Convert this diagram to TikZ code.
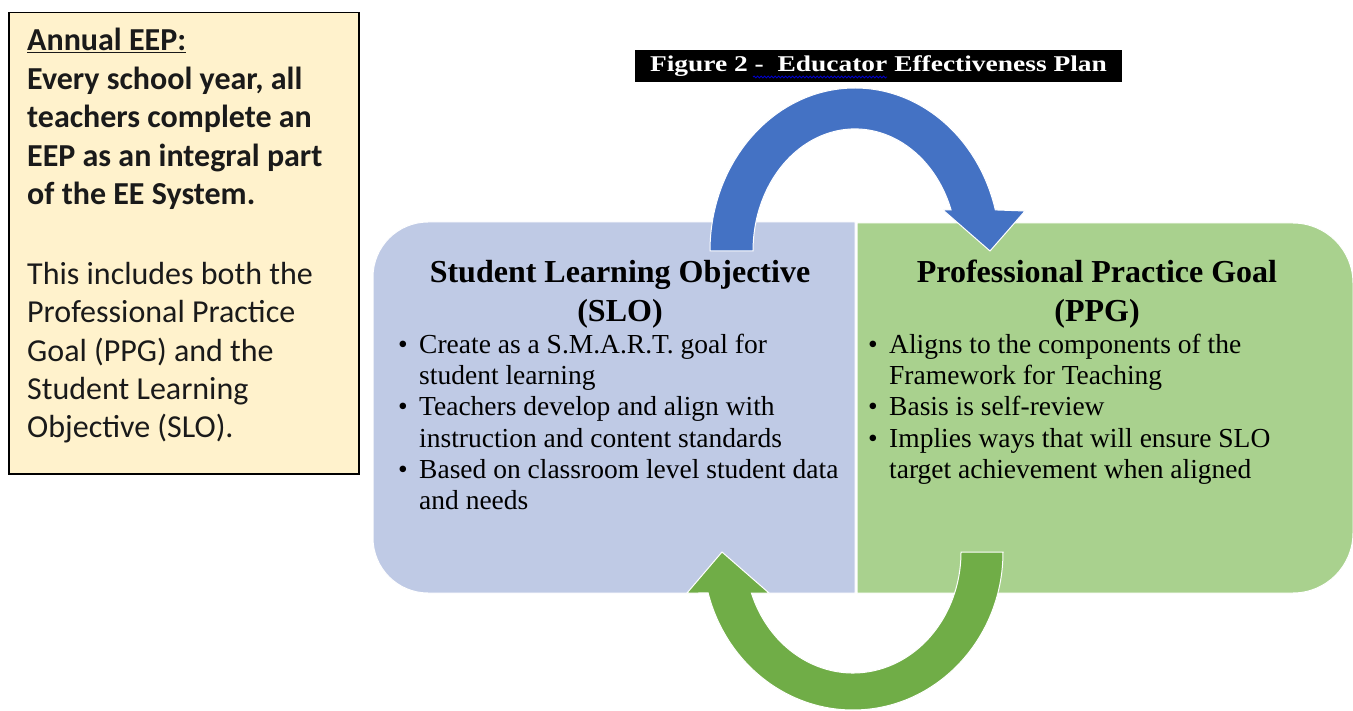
\documentclass[tikz,border=0pt]{standalone}
\usepackage{fontspec}
\setmainfont{Liberation Serif}
\newfontfamily\calibri{Carlito}
\usetikzlibrary{decorations.pathmorphing}
\definecolor{eepfill}{HTML}{FFF2CC}
\definecolor{slofill}{HTML}{BFCAE5}
\definecolor{ppgfill}{HTML}{A9D18E}
\definecolor{bluearrow}{HTML}{4472C4}
\definecolor{greenarrow}{HTML}{70AD47}
\definecolor{eeptext}{HTML}{1A1A1A}
\begin{document}
\begin{tikzpicture}[x=1pt,y=-1pt,
  eepline/.style={anchor=base west,inner sep=0pt,text=eeptext,font=\calibri\fontsize{32}{39}\selectfont},
  eepbold/.style={eepline,font=\calibri\fontsize{32}{39}\selectfont\bfseries},
  boxhead/.style={anchor=base,inner sep=0pt,font=\fontsize{32}{39}\selectfont\bfseries},
  bulletline/.style={anchor=base west,inner sep=0pt,font=\fontsize{27.5}{31}\selectfont},
  arrowshape/.style={draw=white,line width=1pt,line join=miter}]
\useasboundingbox (0,0) rectangle (1353,711);

% left explanatory box
\node[draw=black,line width=1.5pt,fill=eepfill,anchor=north west,inner sep=0pt,
  minimum width=350pt,minimum height=461pt] (eep) at (8,12) {};
\node[eepbold] (e1) at (27,51) {\underline{Annual EEP:}};
\node[eepbold] (e2) at (27,90) {Every school year, all};
\node[eepbold] (e3) at (27,128) {teachers complete an};
\node[eepbold] (e4) at (27,167) {EEP as an integral part};
\node[eepbold] (e5) at (27,205) {of the EE System.};
\node[eepline] (e6) at (27,285) {This includes both the};
\node[eepline] (e7) at (27,323) {Professional Practice};
\node[eepline] (e8) at (27,362) {Goal (PPG) and the};
\node[eepline] (e9) at (27,400) {Student Learning};
\node[eepline] (e10) at (27,438) {Objective (SLO).};

% title bar
\node[fill=black,inner sep=0pt,minimum width=487pt,minimum height=32pt] (title) at (878.5,66) {};
\node[anchor=base,inner sep=0pt,text=white,font=\fontsize{22.5}{26}\selectfont\bfseries] (titletext) at (878.5,72)
  {\scalebox{1.22}[1]{Figure 2 -\ \ Educator Effectiveness Plan}};
\draw[blue!80!black,line width=0.8pt,decorate,decoration={snake,amplitude=1pt,segment length=3.5pt}]
  (753,77) -- (887,77);

% SLO box
\path[fill=slofill,draw=white,line width=1pt] (855,222) -- (428,222)
  arc[start angle=270,end angle=180,radius=55] -- (373,538)
  arc[start angle=180,end angle=90,radius=55] -- (855,593) -- cycle;
% PPG box
\path[fill=ppgfill,draw=white,line width=1pt] (857,223) -- (1293,223)
  arc[start angle=270,end angle=360,radius=60] -- (1353,533)
  arc[start angle=0,end angle=90,radius=60] -- (857,593) -- cycle;

% blue curved arrow (SLO -> PPG)
\path[arrowshape,fill=bluearrow] (710,251)
  arc[start angle=180,end angle=345.4,x radius=145,y radius=163]
  -- (1025,211) -- (990,251) -- (943,210) -- (951.1,210)
  arc[start angle=340.4,end angle=180,x radius=102,y radius=122] -- cycle;

% green curved arrow (PPG -> SLO)
\path[arrowshape,fill=greenarrow] (1003,552)
  arc[start angle=0,end angle=164.96,x radius=150,y radius=158]
  -- (687,593) -- (722,552) -- (769,593) -- (751.4,593)
  arc[start angle=160.2,end angle=0,x radius=108,y radius=121] -- cycle;

% SLO text
\node[boxhead] (sloh1) at (620,283) {Student Learning Objective};
\node[boxhead] (sloh2) at (620,322) {(SLO)};
\node[bulletline] (sb1) at (398,354) {•};
\node[bulletline] (s1) at (419,354) {Create as a S.M.A.R.T. goal for};
\node[bulletline] (s2) at (419,385) {student learning};
\node[bulletline] (sb2) at (398,416) {•};
\node[bulletline] (s3) at (419,416) {Teachers develop and align with};
\node[bulletline] (s4) at (419,447) {instruction and content standards};
\node[bulletline] (sb3) at (398,478) {•};
\node[bulletline] (s5) at (419,478) {Based on classroom level student data};
\node[bulletline] (s6) at (419,509) {and needs};

% PPG text
\node[boxhead] (ppgh1) at (1097,283) {Professional Practice Goal};
\node[boxhead] (ppgh2) at (1097,322) {(PPG)};
\node[bulletline] (pb1) at (868,354) {•};
\node[bulletline] (p1) at (889,354) {Aligns to the components of the};
\node[bulletline] (p2) at (889,385) {Framework for Teaching};
\node[bulletline] (pb2) at (868,416) {•};
\node[bulletline] (p3) at (889,416) {Basis is self-review};
\node[bulletline] (pb3) at (868,447) {•};
\node[bulletline] (p4) at (889,447) {Implies ways that will ensure SLO};
\node[bulletline] (p5) at (889,478) {target achievement when aligned};
\end{tikzpicture}
\end{document}
